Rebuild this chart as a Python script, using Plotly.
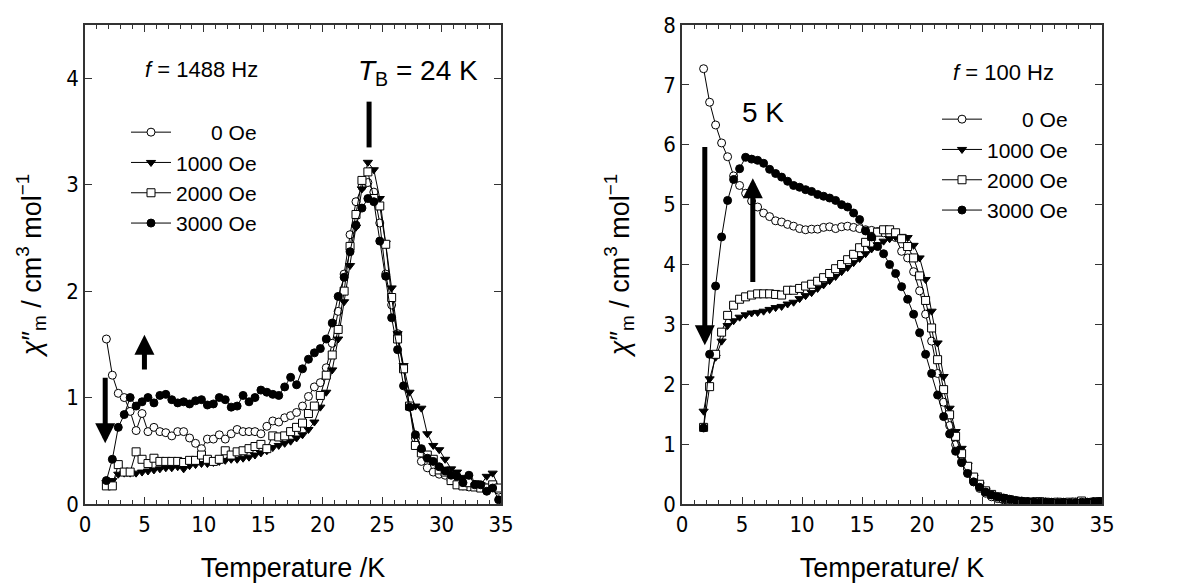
import plotly.graph_objects as go

# ---------------- data ----------------
T_left = [1.8, 2.3, 2.8, 3.3, 3.8, 4.3, 4.8, 5.3, 5.8, 6.3, 6.8, 7.3, 7.8, 8.3, 8.8, 9.3, 9.8,
          10.3, 10.8, 11.3, 11.8, 12.3, 12.8, 13.3, 13.8, 14.3, 14.8, 15.3, 15.8, 16.3, 16.8,
          17.3, 17.8, 18.3, 18.8, 19.3, 19.8, 20.3, 20.8, 21.3, 21.8, 22.3, 22.8, 23.3, 23.8,
          24.3, 24.8, 25.3, 25.8, 26.3, 26.8, 27.3, 27.8, 28.3, 28.8, 29.3, 29.8, 30.3, 30.8,
          31.3, 31.8, 32.3, 32.8, 33.3, 33.8, 34.3, 34.8]
T_right = list(T_left)

left_0 = [1.55, 1.21, 1.04, 1.00, 0.87, 0.69, 0.85, 0.68, 0.72, 0.68, 0.67, 0.64, 0.68, 0.68, 0.62,
          0.57, 0.52, 0.61, 0.61, 0.65, 0.61, 0.66, 0.70, 0.68, 0.68, 0.68, 0.66, 0.73, 0.78, 0.77,
          0.81, 0.83, 0.86, 0.92, 1.01, 1.10, 1.14, 1.28, 1.51, 1.81, 2.16, 2.53, 2.84, 2.98, 3.02,
          2.93, 2.64, 2.16, 1.87, 1.60, 1.27, 0.92, 0.62, 0.40, 0.34, 0.30, 0.28, 0.27, 0.22, 0.20,
          0.17, 0.16, 0.18, 0.17, 0.15, 0.16, 0.13]
left_1000 = [0.20, 0.22, 0.28, 0.29, 0.29, 0.29, 0.30, 0.31, 0.32, 0.33, 0.34, 0.34, 0.35, 0.33, 0.36,
             0.37, 0.38, 0.38, 0.39, 0.40, 0.41, 0.42, 0.42, 0.43, 0.44, 0.46, 0.48, 0.50, 0.53, 0.55,
             0.57, 0.59, 0.62, 0.65, 0.70, 0.77, 0.91, 1.05, 1.26, 1.55, 1.90, 2.24, 2.60, 2.96, 3.21,
             3.14, 2.87, 2.45, 2.03, 1.60, 1.30, 1.05, 0.92, 0.90, 0.66, 0.55, 0.51, 0.42, 0.33, 0.30,
             0.25, 0.20, 0.20, 0.18, 0.26, 0.29, 0.16]
left_2000 = [0.17, 0.17, 0.37, 0.30, 0.30, 0.49, 0.42, 0.38, 0.43, 0.40, 0.40, 0.40, 0.40, 0.39, 0.41,
             0.41, 0.46, 0.42, 0.40, 0.42, 0.50, 0.46, 0.49, 0.50, 0.52, 0.54, 0.56, 0.52, 0.64, 0.63,
             0.64, 0.68, 0.72, 0.76, 0.85, 0.92, 1.02, 1.21, 1.40, 1.64, 2.00, 2.42, 2.72, 3.04, 3.12,
             2.87, 2.80, 2.44, 1.94, 1.55, 1.27, 0.92, 0.55, 0.48, 0.46, 0.42, 0.32, 0.30, 0.22, 0.18,
             0.17, 0.20, 0.16, 0.15, 0.15, 0.18, 0.15]
left_3000 = [0.22, 0.42, 0.72, 0.84, 1.00, 0.92, 0.96, 1.00, 0.95, 1.02, 1.03, 0.98, 0.95, 0.96, 0.94,
             0.97, 0.98, 0.93, 0.94, 1.00, 0.98, 0.91, 0.92, 1.02, 0.96, 1.00, 1.07, 1.05, 1.03, 1.02,
             1.10, 1.19, 1.12, 1.27, 1.36, 1.42, 1.46, 1.55, 1.70, 1.95, 2.13, 2.37, 2.62, 2.78, 2.87,
             2.84, 2.47, 2.14, 1.75, 1.45, 1.11, 0.91, 0.65, 0.52, 0.43, 0.40, 0.35, 0.31, 0.27, 0.26,
             0.20, 0.27, 0.18, 0.18, 0.12, 0.15, 0.04]

right_0 = [7.27, 6.71, 6.33, 6.03, 5.80, 5.48, 5.32, 5.19, 5.06, 4.96, 4.86, 4.80, 4.73, 4.71, 4.67,
           4.64, 4.60, 4.58, 4.59, 4.59, 4.62, 4.63, 4.60, 4.63, 4.64, 4.62, 4.60, 4.58, 4.57, 4.55,
           4.53, 4.50, 4.45, 4.22, 4.11, 3.88, 3.56, 3.17, 2.72, 2.18, 1.70, 1.31, 0.99, 0.71, 0.52,
           0.37, 0.26, 0.18, 0.12, 0.09, 0.07, 0.06, 0.05, 0.04, 0.04, 0.03, 0.03, 0.03, 0.02, 0.03,
           0.02, 0.02, 0.03, 0.02, 0.02, 0.03, 0.02]
right_1000 = [1.55, 2.09, 2.45, 2.72, 2.98, 3.06, 3.12, 3.16, 3.19, 3.20, 3.22, 3.25, 3.28, 3.30, 3.34,
              3.37, 3.43, 3.48, 3.53, 3.60, 3.66, 3.73, 3.80, 3.88, 3.95, 4.03, 4.10, 4.18, 4.26, 4.33,
              4.39, 4.43, 4.46, 4.47, 4.45, 4.32, 4.11, 3.75, 3.22, 2.69, 2.13, 1.60, 1.21, 0.93, 0.65,
              0.45, 0.32, 0.22, 0.16, 0.12, 0.09, 0.07, 0.06, 0.05, 0.04, 0.04, 0.03, 0.03, 0.03, 0.02,
              0.03, 0.02, 0.03, 0.02, 0.03, 0.02, 0.03]
right_2000 = [1.28, 1.96, 2.50, 2.87, 3.15, 3.32, 3.42, 3.46, 3.49, 3.51, 3.51, 3.51, 3.50, 3.49, 3.57,
              3.57, 3.60, 3.64, 3.67, 3.72, 3.78, 3.85, 3.93, 4.00, 4.08, 4.17, 4.28, 4.37, 4.47, 4.54,
              4.58, 4.58, 4.53, 4.43, 4.30, 4.11, 3.81, 3.40, 2.94, 2.41, 1.91, 1.49, 1.13, 0.84, 0.63,
              0.45, 0.33, 0.22, 0.16, 0.12, 0.09, 0.07, 0.05, 0.04, 0.03, 0.03, 0.04, 0.03, 0.02, 0.03,
              0.02, 0.03, 0.03, 0.05, 0.02, 0.03, 0.04]
right_3000 = [1.27, 2.50, 3.64, 4.46, 5.07, 5.42, 5.60, 5.79, 5.76, 5.74, 5.69, 5.59, 5.52, 5.46, 5.39,
              5.32, 5.29, 5.25, 5.22, 5.17, 5.14, 5.11, 5.07, 5.00, 4.96, 4.86, 4.75, 4.56, 4.46, 4.30,
              4.18, 4.00, 3.85, 3.63, 3.42, 3.17, 2.86, 2.50, 2.18, 1.82, 1.46, 1.17, 0.88, 0.69, 0.51,
              0.37, 0.28, 0.20, 0.15, 0.12, 0.10, 0.08, 0.06, 0.05, 0.04, 0.04, 0.03, 0.03, 0.03, 0.02,
              0.03, 0.02, 0.02, 0.03, 0.03, 0.04, 0.04]

series_names = ["\u2007\u2007\u20070 Oe", "1000 Oe", "2000 Oe", "3000 Oe"]
x_ticks = [0, 5, 10, 15, 20, 25, 30, 35]
left_yticks = [0, 1, 2, 3, 4]
right_yticks = [0, 1, 2, 3, 4, 5, 6, 7, 8]

# ---------------- styles ----------------
SYMBOLS = ["circle", "triangle-down", "square", "circle"]
FILLS = ["white", "black", "white", "black"]
SANS = "Liberation Sans, Arial, sans-serif"
TICKFONT = "Liberation Sans Narrow, Arial Narrow, DejaVu Sans Condensed, Liberation Sans, sans-serif"

fig = go.Figure()

left_sets = [left_0, left_1000, left_2000, left_3000]
right_sets = [right_0, right_1000, right_2000, right_3000]

for i, ys in enumerate(left_sets):
    fig.add_trace(go.Scatter(
        x=T_left, y=ys, mode="lines+markers", name=series_names[i],
        line=dict(color="black", width=1),
        marker=dict(symbol=SYMBOLS[i], size=8, color=FILLS[i],
                    line=dict(color="black", width=1)),
        xaxis="x", yaxis="y", legend="legend"))

for i, ys in enumerate(right_sets):
    fig.add_trace(go.Scatter(
        x=T_right, y=ys, mode="lines+markers", name=series_names[i],
        line=dict(color="black", width=1),
        marker=dict(symbol=SYMBOLS[i], size=8, color=FILLS[i],
                    line=dict(color="black", width=1)),
        xaxis="x2", yaxis="y2", legend="legend2"))

W, H = 1186, 588
OFF = 8  # page body margin
def px_x(p):
    return (p - OFF) / W
def px_y(p):
    return 1 - (p - OFF) / H

xaxis_common = dict(
    range=[0, 35], tickvals=x_ticks, ticks="inside", ticklen=7, tickwidth=1,
    tickcolor="#333", showline=True, linecolor="#333", linewidth=1.5,
    mirror="allticks", showgrid=False, zeroline=False, automargin=False,
    minor=dict(dtick=1, ticks="inside", ticklen=4, tickcolor="#333", showgrid=False),
    tickfont=dict(family=TICKFONT, size=22, color="black"),
    title=dict(font=dict(family=SANS, size=27, color="black"), standoff=22),
)
yaxis_common = dict(
    ticks="inside", ticklen=7, tickwidth=1, tickcolor="#333",
    showline=True, linecolor="#333", linewidth=1.5, mirror="allticks",
    showgrid=False, zeroline=False, automargin=False,
    tickfont=dict(family=TICKFONT, size=22, color="black"),
    title=dict(font=dict(family=SANS, size=27, color="black"), standoff=17),
)
ytitle = "<i>\u03c7</i>\u2033<sub>m</sub> / cm<sup>3</sup> mol<sup>\u22121</sup>"

fig.update_layout(
    width=W, height=H, margin=dict(l=0, r=0, t=0, b=0, pad=0, autoexpand=False),
    paper_bgcolor="white", plot_bgcolor="white",
    xaxis=dict(xaxis_common, domain=[px_x(85), px_x(501)], anchor="y",
               title=dict(xaxis_common["title"], text="Temperature /K")),
    yaxis=dict(yaxis_common, domain=[px_y(504), px_y(25)], anchor="x",
               range=[0, 4.5], tickvals=left_yticks,
               title=dict(yaxis_common["title"], text=ytitle)),
    xaxis2=dict(xaxis_common, domain=[px_x(682), px_x(1102)], anchor="y2",
                title=dict(xaxis_common["title"], text="Temperature/ K")),
    yaxis2=dict(yaxis_common, domain=[px_y(504), px_y(25)], anchor="x2",
                range=[0, 8], tickvals=right_yticks,
                title=dict(yaxis_common["title"], text=ytitle, standoff=26)),
    legend=dict(x=px_x(126), y=px_y(112), xanchor="left", yanchor="top",
                bgcolor="rgba(0,0,0,0)", itemwidth=40, tracegroupgap=0,
                font=dict(family=SANS, size=21, color="black")),
    legend2=dict(x=px_x(937), y=px_y(99), xanchor="left", yanchor="top",
                 bgcolor="rgba(0,0,0,0)", itemwidth=40, tracegroupgap=0,
                 font=dict(family=SANS, size=21, color="black")),
    showlegend=True,
)

ann_font = dict(family=SANS, color="black")
annotations = [
    dict(x=9.8, y=4.08, xref="x", yref="y", text="<i>f</i> = 1488 Hz", showarrow=False,
         font=dict(ann_font, size=22), xanchor="center", yanchor="middle"),
    dict(x=28.0, y=4.05, xref="x", yref="y", text="<i>T</i><sub>B</sub> = 24 K", showarrow=False,
         font=dict(ann_font, size=28), xanchor="center", yanchor="middle"),
    dict(x=26.8, y=7.21, xref="x2", yref="y2", text="<i>f</i> = 100 Hz", showarrow=False,
         font=dict(ann_font, size=22), xanchor="center", yanchor="middle"),
    dict(x=6.75, y=6.54, xref="x2", yref="y2", text="5 K", showarrow=False,
         font=dict(ann_font, size=28), xanchor="center", yanchor="middle"),
    # arrows, left panel
    dict(x=1.7, y=0.57, ax=1.7, ay=1.28, xref="x", yref="y", axref="x", ayref="y",
         text=" ", showarrow=True, arrowhead=2, arrowsize=0.8, arrowwidth=5, arrowcolor="black"),
    dict(x=5.0, y=1.59, ax=5.0, ay=1.17, xref="x", yref="y", axref="x", ayref="y",
         text=" ", showarrow=True, arrowhead=2, arrowsize=0.8, arrowwidth=5, arrowcolor="black"),
    # arrows, right panel
    dict(x=1.9, y=2.65, ax=1.9, ay=6.13, xref="x2", yref="y2", axref="x2", ayref="y2",
         text=" ", showarrow=True, arrowhead=2, arrowsize=0.8, arrowwidth=5, arrowcolor="black"),
    dict(x=5.9, y=5.44, ax=5.9, ay=3.54, xref="x2", yref="y2", axref="x2", ayref="y2",
         text=" ", showarrow=True, arrowhead=2, arrowsize=0.8, arrowwidth=5, arrowcolor="black"),
]
fig.update_layout(annotations=annotations)

fig.add_shape(type="line", xref="x", yref="y", x0=23.9, x1=23.9, y0=3.35, y1=3.78,
              line=dict(color="black", width=5))

fig.write_html("out.html")
